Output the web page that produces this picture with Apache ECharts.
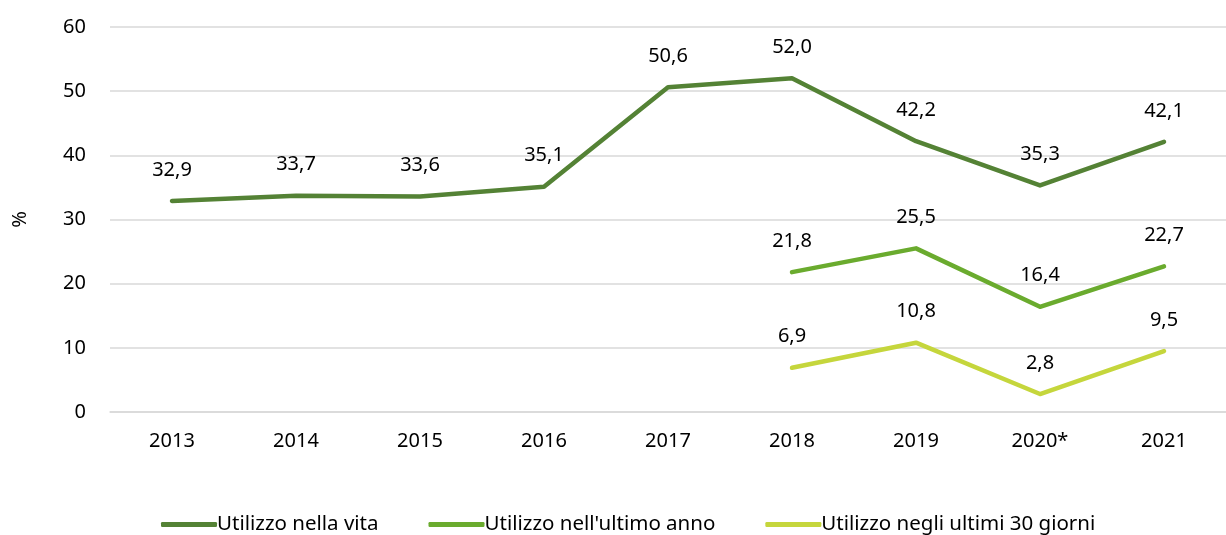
<!DOCTYPE html>
<html><head><meta charset="utf-8">
<script src="https://cdn.jsdelivr.net/npm/echarts@6/dist/echarts.min.js"></script>
<style>html,body{margin:0;padding:0;background:#fff}#c{width:1226px;height:535px}</style>
</head><body><div id="c"></div>
<script>
const categories = ['2013','2014','2015','2016','2017','2018','2019','2020*','2021'];
const vita = [32.9, 33.7, 33.6, 35.1, 50.6, 52.0, 42.2, 35.3, 42.1];
const anno = [null, null, null, null, null, 21.8, 25.5, 16.4, 22.7];
const giorni30 = [null, null, null, null, null, 6.9, 10.8, 2.8, 9.5];
const yTicks = [0, 10, 20, 30, 40, 50, 60];
const seriesNames = ['Utilizzo nella vita', "Utilizzo nell'ultimo anno", 'Utilizzo negli ultimi 30 giorni'];
const colors = ['#548235', '#6AAB2E', '#C5D63C'];

const font = 'Noto Sans';
function mk(name, data, color) {
  return {
    name, type: 'line', data, connectNulls: false,
    symbol: 'circle', symbolSize: 0.01, showSymbol: true, smooth: false,
    lineStyle: { color, width: 4.5, cap: 'round', join: 'round' },
    itemStyle: { color },
    label: {
      show: true, position: 'top', distance: 21,
      formatter: p => p.value == null ? '' : p.value.toFixed(1).replace('.', ','),
      fontFamily: font, fontSize: 20, color: '#000'
    }
  };
}
const chart = echarts.init(document.getElementById('c'));
chart.setOption({
  animation: false,
  color: colors,
  grid: { left: 110, right: -9, top: 27, bottom: 123 },
  legend: {
    top: 509, left: 156, itemWidth: 56, itemHeight: 5, itemGap: 50,
    icon: 'roundRect',
    textStyle: { fontFamily: font, fontSize: 20.5, color: '#000', padding: [0,0,0,-5] },
    data: seriesNames
  },
  xAxis: {
    type: 'category', data: categories, boundaryGap: true,
    axisLine: { show: true, lineStyle: { color: '#d9d9d9', width: 1.5 } },
    axisTick: { show: false },
    axisLabel: { fontFamily: font, fontSize: 20, color: '#000', margin: 19 }
  },
  yAxis: {
    type: 'value', min: yTicks[0], max: yTicks[yTicks.length-1], interval: 10,
    name: '%', nameLocation: 'middle', nameGap: 80, nameRotate: 90,
    nameTextStyle: { fontFamily: font, fontSize: 20, color: '#000' },
    axisLine: { show: false }, axisTick: { show: false },
    axisLabel: { fontFamily: font, fontSize: 20, color: '#000', margin: 24 },
    splitLine: { lineStyle: { color: '#d9d9d9', width: 1.5 } }
  },
  series: [mk(seriesNames[0], vita, colors[0]), mk(seriesNames[1], anno, colors[1]), mk(seriesNames[2], giorni30, colors[2])]
});
</script></body></html>
